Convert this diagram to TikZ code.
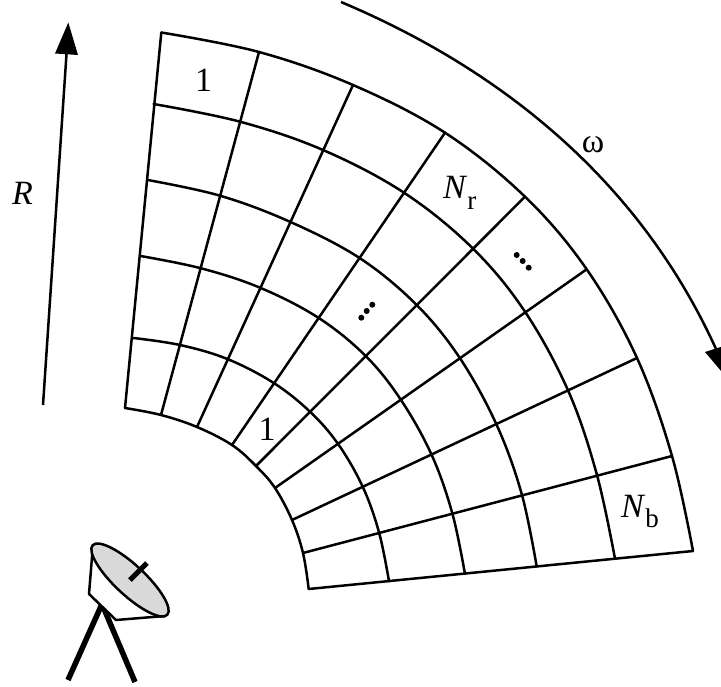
\documentclass[tikz,border=0pt]{standalone}
\usepackage{fontspec}
\setmainfont{Liberation Serif}
\newcommand{\subdrop}[1]{\raisebox{-10.5pt}{\fontsize{27}{30}\selectfont #1}}
\begin{document}
\begin{tikzpicture}[x=1pt,y=-1pt,
  gridline/.style={line width=2.5pt,line cap=round,line join=round},
  arrowline/.style={line width=2.5pt},
  label/.style={inner sep=0pt,anchor=base west,font=\fontsize{34}{36}\selectfont},
  centerlabel/.style={inner sep=0pt,anchor=base,font=\fontsize{34}{36}\selectfont},
  leg/.style={line width=5.5pt},
  dishline/.style={line width=2.5pt,line join=round}]
\useasboundingbox (0,0) rectangle (721,687);
\clip (0,0) rectangle (721,687);
% grid crossing points: spoke s, ring r
\foreach \s/\pts in {
 1/{(125,408),(133.5,338),(140.5,256),(147.7,180),(153.5,104),(161.3,32.5)},
 2/{(161,415),(180,345),(201,268.3),(220,195.7),(240,121.7),(259,52)},
 3/{(197,427),(227.3,359),(260,287.7),(290.5,222),(323,150),(353,85)},
 4/{(232,445),(273.3,382.7),(318.3,317.7),(360,258.3),(404,192.7),(445,132.7)},
 5/{(256,466),(310,411.7),(365.7,356),(416.7,305),(472.7,248.3),(525,196.7)},
 6/{(275,488),(338.3,444.3),(401,400),(460,358.3),(525,311.7),(586.7,269.3)},
 7/{(292,520),(362.7,486.7),(431.7,455),(496.7,425),(568.3,391),(637,358)},
 8/{(303,553),(379,532.3),(452.3,513.3),(521.7,494),(596.7,474),(672,456)},
 9/{(308.7,589),(389,581.2),(465,574),(536.7,566.5),(615,558.7),(693,551)}}{
  \foreach \p [count=\r] in \pts { \path \p coordinate (s\s-\r); }
}
\foreach \s in {1,...,9}{
  \draw[gridline] (s\s-1) -- (s\s-6);
}
\foreach \r in {1,...,6}{
  \draw[gridline] plot[smooth,tension=0.6] coordinates {(s1-\r) (s2-\r) (s3-\r) (s4-\r) (s5-\r) (s6-\r) (s7-\r) (s8-\r) (s9-\r)};
}
% R arrow
\coordinate (rstart) at (43,405);
\coordinate (rbase) at (66.5,54);
\draw[arrowline] (rstart) -- (rbase);
\fill (68.3,22.5) -- (55,53.5) -- (78,55) -- cycle;
% omega arrow
\coordinate (wstart) at (341,2);
\coordinate (wend) at (716,349);
\draw[arrowline] (wstart) .. controls (507,72) and (641.5,185) .. (wend);
\fill (705,352) -- (727,345) -- (727,378) -- cycle;
% dish
\coordinate (apex) at (102,604);
\draw[leg] (apex) -- (68,680);
\draw[leg] (apex) -- (135,682);
\draw[dishline,fill=white] (93,545) -- (89,594) -- (116,620) -- (165,616) -- cycle;
\draw[dishline,fill=black!15] (130,580) ellipse[x radius=51,y radius=15,rotate=-43];
\draw[line width=5pt] (130,580) -- (147,563);
% dots
\foreach \p in {(516.7,255),(522.7,261),(528.7,267.7),(361.3,317.7),(366.7,311),(372.3,304.7)}{
  \fill \p circle[radius=3];
}
% labels
\node[centerlabel] (one) at (203.5,92) {1};
\node[centerlabel] (onein) at (267,440) {1};
\node[label] (nr) at (443,199) {\textit{N}\subdrop{r}};
\node[label] (nb) at (621,517) {\textit{N}\subdrop{b}};
\node[centerlabel] (om) at (593,153) {ω};
\node[label] (rr) at (12,205) {\textit{R}};
\end{tikzpicture}
\end{document}
